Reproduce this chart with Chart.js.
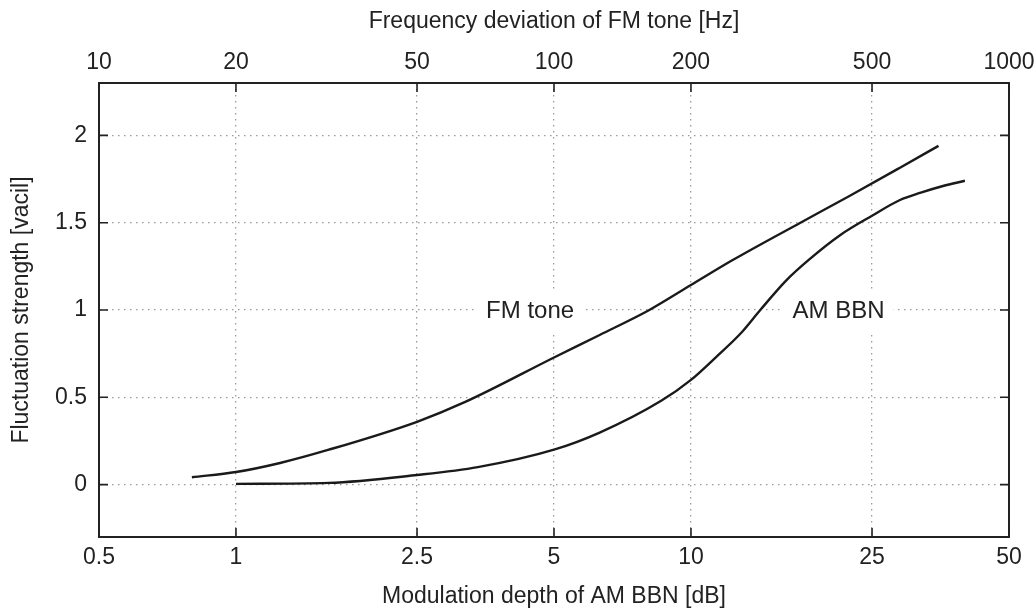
<!DOCTYPE html>
<html>
<head>
<meta charset="utf-8">
<script src="https://cdn.jsdelivr.net/npm/chart.js@4/dist/chart.umd.min.js"></script>
<style>
  html, body { margin: 0; padding: 0; background: #fff; }
  #wrap { width: 1036px; height: 612px; }
</style>
</head>
<body>
<div id="wrap"><canvas id="chart"></canvas></div>
<script>
// ticks
var amTicks = [0.5, 1, 2.5, 5, 10, 25, 50];
var fmTicks = [10, 20, 50, 100, 200, 500, 1000];
var yTicks = [0, 0.5, 1, 1.5, 2];

// FM tone: frequency deviation [Hz] -> fluctuation strength [vacil]
var fmHz = [16, 20, 25, 32, 50, 64, 100, 126, 162, 200, 247, 348, 446, 576, 700];
var fmVacil = [0.042, 0.072, 0.124, 0.20, 0.36, 0.475, 0.728, 0.857, 1.0, 1.143, 1.286, 1.50, 1.653, 1.815, 1.94];

// AM BBN: modulation depth [dB] -> fluctuation strength [vacil]
var amDb = [1, 1.6, 2.5, 3.4, 5, 6.3, 8.6, 10, 11.4, 12.9, 14.2, 16.2, 18.2, 21.3, 25, 28.8, 32, 35.8, 40];
var amVacil = [0.004, 0.01, 0.055, 0.10, 0.20, 0.298, 0.48, 0.60, 0.735, 0.87, 1.0, 1.17, 1.29, 1.43, 1.54, 1.63, 1.672, 1.71, 1.74];

// curve labels (x in dB on the bottom axis)
var curveLabels = [
    { text: 'FM tone', x: 4.43, y: 1.0 },
    { text: 'AM BBN', x: 21.1, y: 1.0 }
];

var FONT = '"Liberation Sans", Arial, Helvetica, sans-serif';
var INK = '#222';

function toPoints(xs, ys) {
    return xs.map(function (x, i) { return { x: x, y: ys[i] }; });
}
function setTicks(list) {
    return function (scale) {
        scale.ticks = list.map(function (v) { return { value: v }; });
    };
}
function fixSize(prop, size) {
    return function (scale) {
        scale[prop] = size;
        // keep edge labels from shrinking the plot area
        scale.paddingLeft = 0; scale.paddingRight = 0;
        scale.paddingTop = 0; scale.paddingBottom = 0;
    };
}

var gridStyle = { color: '#9a9a9a', lineWidth: 1.3, drawTicks: false };
var borderStyle = { color: INK, width: 2, dash: [1.5, 4.5] };
var tickFont = { family: FONT, size: 23 };
var titleFont = { family: FONT, size: 23 };

// frame ticks pointing inward + curve labels
var framePlugin = {
    id: 'frame',
    beforeDatasetsDraw: function (chart) {
        var ctx = chart.ctx;
        ctx.save();
        ctx.font = '24px ' + FONT;
        ctx.textAlign = 'center';
        ctx.textBaseline = 'middle';
        curveLabels.forEach(function (l) {
            var px = chart.scales.x.getPixelForValue(l.x);
            var py = chart.scales.y.getPixelForValue(l.y);
            var w = ctx.measureText(l.text).width;
            ctx.fillStyle = '#fff';
            ctx.fillRect(px - w / 2 - 9, py - 21, w + 18, 42);
            ctx.fillStyle = INK;
            ctx.fillText(l.text, px, py + 1);
        });
        ctx.restore();
    },
    afterDraw: function (chart) {
        var ctx = chart.ctx;
        var a = chart.chartArea;
        var len = 9;
        ctx.save();
        ctx.strokeStyle = INK;
        ctx.lineWidth = 1.6;
        ctx.beginPath();
        yTicks.forEach(function (v) {
            var py = chart.scales.y.getPixelForValue(v);
            ctx.moveTo(a.left, py); ctx.lineTo(a.left + len, py);
            ctx.moveTo(a.right, py); ctx.lineTo(a.right - len, py);
        });
        amTicks.forEach(function (v) {
            var px = chart.scales.x.getPixelForValue(v);
            ctx.moveTo(px, a.bottom); ctx.lineTo(px, a.bottom - len);
        });
        fmTicks.forEach(function (v) {
            var px = chart.scales.x2.getPixelForValue(v);
            ctx.moveTo(px, a.top); ctx.lineTo(px, a.top + len);
        });
        ctx.stroke();
        ctx.restore();
    }
};

var chart = new Chart(document.getElementById('chart'), {
    type: 'line',
    data: {
        datasets: [{
            label: 'FM tone',
            data: toPoints(fmHz, fmVacil),
            xAxisID: 'x2',
            yAxisID: 'y',
            borderColor: '#1a1a1a',
            borderWidth: 2.4,
            pointRadius: 0,
            cubicInterpolationMode: 'monotone',
            fill: false
        }, {
            label: 'AM BBN',
            data: toPoints(amDb, amVacil),
            xAxisID: 'x',
            yAxisID: 'y',
            borderColor: '#1a1a1a',
            borderWidth: 2.4,
            pointRadius: 0,
            cubicInterpolationMode: 'monotone',
            fill: false
        }]
    },
    options: {
        responsive: true,
        maintainAspectRatio: false,
        animation: false,
        layout: { padding: 0 },
        plugins: {
            legend: { display: false },
            tooltip: { enabled: false }
        },
        scales: {
            x: {
                type: 'logarithmic',
                position: 'bottom',
                min: 0.5, max: 50,
                afterBuildTicks: setTicks(amTicks),
                afterFit: fixSize('height', 75),
                grid: gridStyle,
                border: borderStyle,
                ticks: {
                    color: INK, font: tickFont, padding: 7, maxRotation: 0, autoSkip: false,
                    callback: function (v) { return String(v); }
                },
                title: { display: true, text: 'Modulation depth of AM BBN [dB]', color: INK, font: titleFont, padding: { top: 0, bottom: 2 } }
            },
            x2: {
                type: 'logarithmic',
                position: 'top',
                min: 10, max: 1000,
                afterBuildTicks: setTicks(fmTicks),
                afterFit: fixSize('height', 83),
                grid: { drawOnChartArea: false, drawTicks: false },
                border: { color: INK, width: 2 },
                ticks: {
                    color: INK, font: tickFont, padding: 7, maxRotation: 0, autoSkip: false,
                    callback: function (v) { return String(v); }
                },
                title: { display: true, text: 'Frequency deviation of FM tone [Hz]', color: INK, font: titleFont, padding: { top: 8, bottom: 0 } }
            },
            y: {
                type: 'linear',
                position: 'left',
                min: -0.3, max: 2.3,
                afterBuildTicks: setTicks(yTicks),
                afterFit: fixSize('width', 99),
                grid: gridStyle,
                border: borderStyle,
                ticks: {
                    color: INK, font: tickFont, padding: 12,
                    callback: function (v) { return String(v); }
                },
                title: { display: true, text: 'Fluctuation strength [vacil]', color: INK, font: titleFont, padding: { top: 8, bottom: 0 } }
            },
            y2: {
                type: 'linear',
                position: 'right',
                min: -0.3, max: 2.3,
                afterFit: fixSize('width', 27),
                grid: { drawOnChartArea: false, drawTicks: false },
                border: { color: INK, width: 2 },
                ticks: { display: false }
            }
        }
    },
    plugins: [framePlugin]
});
</script>
</body>
</html>
